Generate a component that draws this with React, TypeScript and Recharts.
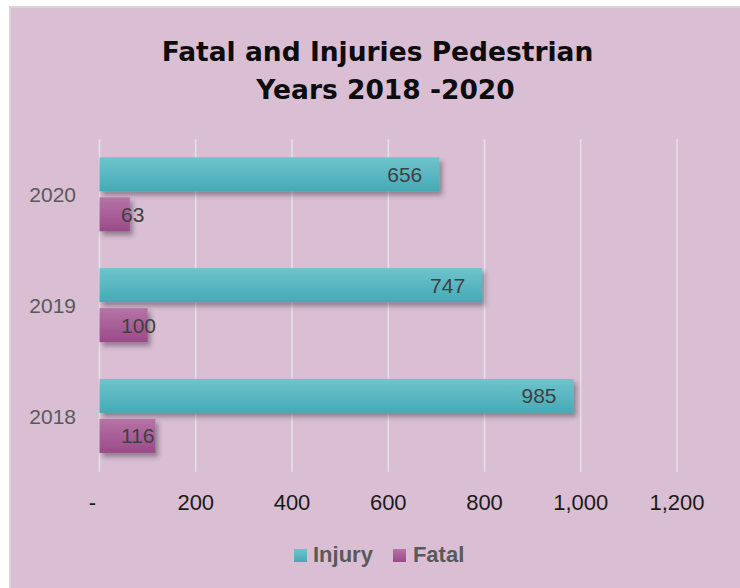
import React from 'react';
import { BarChart, Bar, XAxis, YAxis, CartesianGrid, Legend, LabelList } from 'recharts';

const W = 740;
const H = 588;

const years = ['2020', '2019', '2018'];
// bar lengths as drawn in the reference
const injuryValues = [706, 795, 985];
// data-label text as printed in the reference
const injuryLabels = ['656', '747', '985'];
const fatalValues = [63, 100, 116];
const fatalLabels = ['63', '100', '116'];
const xTicks = [0, 200, 400, 600, 800, 1000, 1200];
const titleLine1 = 'Fatal and Injuries Pedestrian';
const titleLine2 = 'Years 2018 -2020';
const seriesNames = ['Injury', 'Fatal'];

const data = years.map((y, i) => ({
  year: y,
  injury: injuryValues[i],
  fatal: fatalValues[i],
  injuryLabel: injuryLabels[i],
  fatalLabel: fatalLabels[i],
}));

const SANS = '"Liberation Sans", Arial, sans-serif';

const ShadowRect = (props: any) => {
  const { x, y, width, height, fill } = props;
  if (width == null || height == null) return null;
  return <rect x={x} y={y} width={width} height={height} fill={fill} filter="url(#barShadow)" />;
};

const InjuryLabel = (p: any) => (
  <text
    x={Number(p.x) + Number(p.width) - 17}
    y={Number(p.y) + Number(p.height) / 2}
    dy="0.36em"
    textAnchor="end"
    fontSize={21}
    fontFamily={SANS}
    fill="#404040"
  >
    {p.value}
  </text>
);

const FatalLabel = (p: any) => (
  <text
    x={Number(p.x) + 21.5}
    y={Number(p.y) + Number(p.height) / 2}
    dy="0.36em"
    textAnchor="start"
    fontSize={21}
    fontFamily={SANS}
    fill="#404040"
  >
    {p.value}
  </text>
);

const XTick = (p: any) => {
  const v = p.payload.value;
  const txt = v === 0 ? '-' : v.toLocaleString('en-US');
  return (
    <text
      x={Number(p.x) + (v === 0 ? -7 : 0)}
      y={p.y}
      dy="0.71em"
      textAnchor="middle"
      fontSize={22}
      fontFamily={SANS}
      fill="#1a1a1a"
    >
      {txt}
    </text>
  );
};

const LegendContent = () => (
  <div style={{ display: 'flex', alignItems: 'center', fontFamily: SANS, fontWeight: 'bold', fontSize: 22, color: '#595959', lineHeight: '26px' }}>
    <span style={{ width: 13, height: 13, background: 'linear-gradient(#6ec4cc,#45aab6)', display: 'inline-block', marginRight: 6 }} />
    <span style={{ marginRight: 20 }}>{seriesNames[0]}</span>
    <span style={{ width: 13, height: 13, background: 'linear-gradient(#b574a6,#9b4a89)', display: 'inline-block', marginRight: 7 }} />
    <span>{seriesNames[1]}</span>
  </div>
);

export default function App() {
  return (
    <div style={{ position: 'absolute', left: 0, top: 0, width: W, height: H, overflow: 'hidden', background: '#fff' }}>
      <svg width={W} height={H} style={{ position: 'absolute', left: 0, top: 0 }}>
        <defs>
          <linearGradient id="injuryGrad" x1="0" y1="0" x2="0" y2="1">
            <stop offset="0%" stopColor="#6ec4cc" />
            <stop offset="100%" stopColor="#45aab6" />
          </linearGradient>
          <linearGradient id="fatalGrad" x1="0" y1="0" x2="0" y2="1">
            <stop offset="0%" stopColor="#b574a6" />
            <stop offset="100%" stopColor="#9b4a89" />
          </linearGradient>
          <filter id="barShadow" filterUnits="userSpaceOnUse" x="0" y="0" width={W} height={H}>
            <feDropShadow dx="3" dy="4" stdDeviation="2.5" floodColor="#3d2a38" floodOpacity="0.45" />
          </filter>
        </defs>
        <rect x={10} y={7} width={W} height={H} fill="#dabfd4" stroke="#d6d6d6" strokeWidth={2} />
        <text x={377.5} y={60.5} textAnchor="middle" fontFamily='"DejaVu Sans", sans-serif' fontWeight="bold" fontSize={26.5} fill="#0d0d0d">
          {titleLine1}
        </text>
        <text x={385.5} y={99} textAnchor="middle" fontFamily='"DejaVu Sans", sans-serif' fontWeight="bold" fontSize={26.5} fill="#0d0d0d">
          {titleLine2}
        </text>
      </svg>
      <div style={{ position: 'absolute', left: 0, top: 0 }}>
        <BarChart
          width={W}
          height={H}
          data={data}
          layout="vertical"
          margin={{ top: 139.3, right: 63, bottom: 60.3, left: 9.5 }}
          barSize={34}
          barGap={6}
        >
          <CartesianGrid horizontal={false} vertical stroke="#e6dfe5" strokeWidth={1.6} />
          <XAxis
            type="number"
            domain={[0, 1200]}
            ticks={xTicks}
            axisLine={false}
            tickLine={false}
            tickMargin={17}
            height={30}
            tick={<XTick />}
            interval={0}
          />
          <YAxis
            type="category"
            dataKey="year"
            width={90}
            axisLine={false}
            tickLine={false}
            tickMargin={17.5}
            tick={{ fontSize: 21, fontFamily: SANS, fill: '#595959' }}
          />
          <Legend
            content={<LegendContent />}
            wrapperStyle={{ position: 'absolute', left: 294, top: 542, width: 'auto' }}
          />
          <Bar dataKey="injury" name={seriesNames[0]} fill="url(#injuryGrad)" shape={<ShadowRect />} isAnimationActive={false}>
            <LabelList dataKey="injuryLabel" content={<InjuryLabel />} />
          </Bar>
          <Bar dataKey="fatal" name={seriesNames[1]} fill="url(#fatalGrad)" shape={<ShadowRect />} isAnimationActive={false}>
            <LabelList dataKey="fatalLabel" content={<FatalLabel />} />
          </Bar>
        </BarChart>
      </div>
    </div>
  );
}
